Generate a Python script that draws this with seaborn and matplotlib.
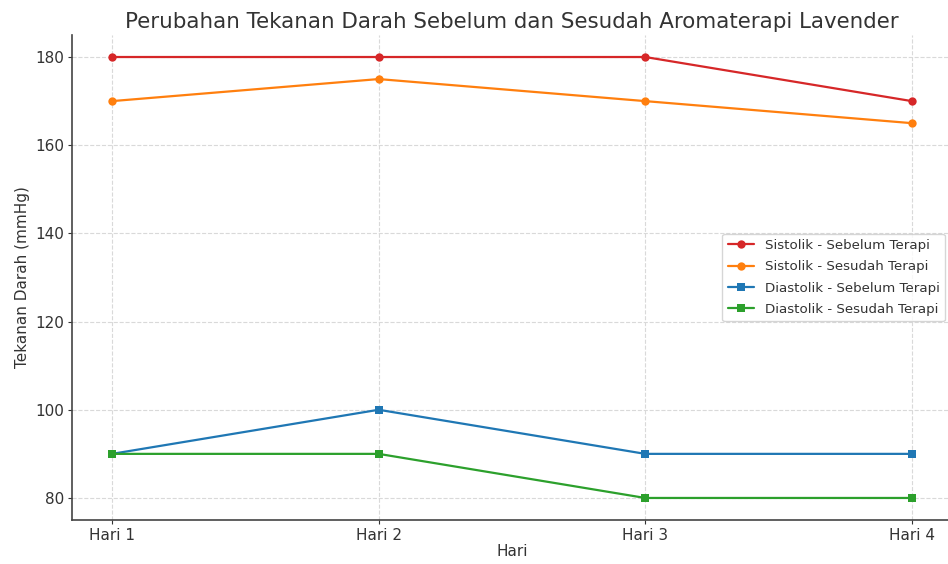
import pandas as pd
import seaborn as sns
import matplotlib.pyplot as plt

hari = ["Hari 1", "Hari 2", "Hari 3", "Hari 4"]
sistolik_sebelum = [180, 180, 180, 170]
sistolik_sesudah = [170, 175, 170, 165]
diastolik_sebelum = [90, 100, 90, 90]
diastolik_sesudah = [90, 90, 80, 80]

series = {
    "Sistolik - Sebelum Terapi": sistolik_sebelum,
    "Sistolik - Sesudah Terapi": sistolik_sesudah,
    "Diastolik - Sebelum Terapi": diastolik_sebelum,
    "Diastolik - Sesudah Terapi": diastolik_sesudah,
}

# long format for seaborn
rows = []
for name, values in series.items():
    for h, v in zip(hari, values):
        rows.append({"Hari": h, "Tekanan": v, "Seri": name})
df = pd.DataFrame(rows)

sns.set_style("whitegrid", {"grid.linestyle": "--", "grid.color": "#d9d9d9",
                            "axes.edgecolor": "#444444"})
plt.rcParams["font.family"] = ["DejaVu Sans"]
plt.rcParams["text.color"] = "#333333"
plt.rcParams["axes.labelcolor"] = "#333333"
plt.rcParams["xtick.color"] = "#333333"
plt.rcParams["ytick.color"] = "#333333"

colors = ["#d62728", "#ff7f0e", "#1f77b4", "#2ca02c"]
markers = ["o", "o", "s", "s"]

fig = plt.figure(figsize=(9.48, 5.64), dpi=100)
ax = fig.add_axes([0.076, 0.078, 0.928, 0.86])

sns.lineplot(data=df, x="Hari", y="Tekanan", hue="Seri", style="Seri",
             palette=colors, markers=markers, dashes=False, markersize=6,
             markeredgewidth=0, linewidth=1.6, ax=ax)

ax.set_xlim(-0.15, 3.15)
ax.set_ylim(75, 185)
ax.set_yticks([80, 100, 120, 140, 160, 180])
ax.set_title("Perubahan Tekanan Darah Sebelum dan Sesudah Aromaterapi Lavender",
             fontsize=15.4, pad=5)
ax.set_xlabel("Hari", fontsize=11, labelpad=1)
ax.set_ylabel("Tekanan Darah (mmHg)", fontsize=11)
ax.tick_params(axis="both", labelsize=11, length=3, pad=2.5, bottom=True, left=True)
ax.spines["top"].set_visible(False)
ax.spines["right"].set_visible(False)
ax.spines["left"].set_linewidth(1.2)
ax.spines["bottom"].set_linewidth(1.2)

leg = ax.legend(loc="center right", fontsize=9.6, frameon=True, labelspacing=0.62)
leg.get_frame().set_edgecolor("#cccccc")

fig.savefig("out.png", dpi=100)
